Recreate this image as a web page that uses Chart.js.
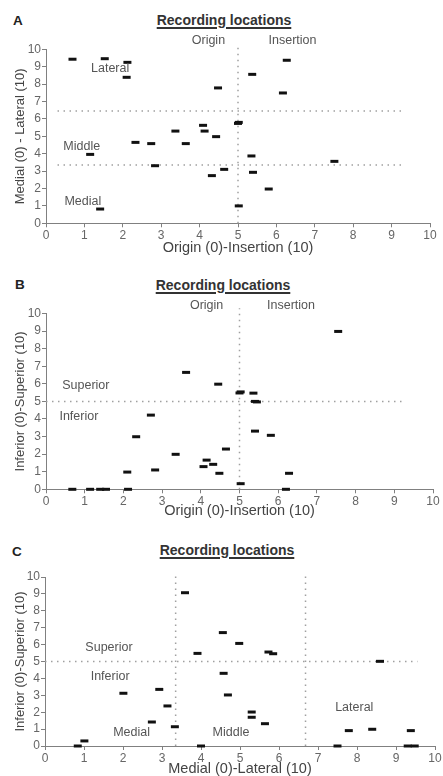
<!DOCTYPE html>
<html><head><meta charset="utf-8">
<script src="https://cdn.jsdelivr.net/npm/chart.js@4/dist/chart.umd.min.js"></script>
<style>
body{margin:0;background:#fff;width:443px;height:776px;overflow:hidden;position:relative;font-family:"Liberation Sans",Arial,sans-serif}
canvas{position:absolute;left:0}
.letter{position:absolute;font-weight:bold;font-size:13.5px;line-height:14px;color:#222}
.title{position:absolute;font-weight:bold;font-size:14px;line-height:16px;color:#333;text-decoration:underline;text-decoration-thickness:2px;text-underline-offset:2px;transform:translateX(-50%);white-space:nowrap}
</style></head>
<body>
<div class="letter" style="left:13px;top:14px">A</div>
<div class="title" style="left:224px;top:12px">Recording locations</div>
<div class="letter" style="left:15px;top:278px">B</div>
<div class="title" style="left:223px;top:277px">Recording locations</div>
<div class="letter" style="left:12px;top:545px">C</div>
<div class="title" style="left:227px;top:542px">Recording locations</div>
<canvas id="ca" width="443" height="258" style="top:0px"></canvas>
<canvas id="cb" width="443" height="262" style="top:258px"></canvas>
<canvas id="cc" width="443" height="258" style="top:518px"></canvas>
<script>
// ---- Panel A: Origin-Insertion (x) vs Medial-Lateral (y)
const aX = [0.69,1.53,2.12,2.10,4.48,5.37,6.27,6.17,5.02,5.00,4.09,4.13,3.37,4.43,2.33,2.74,3.64,1.15,2.84,4.64,4.32,5.35,7.51,5.39,5.80,5.02,1.41];
const aY = [9.43,9.46,9.25,8.39,7.78,8.56,9.37,7.49,5.80,5.74,5.63,5.30,5.30,4.98,4.65,4.58,4.58,3.96,3.31,3.10,2.74,3.87,3.56,2.93,1.97,1.00,0.82];
const aVLines = [5];
const aHLines = [6.45, 3.35];
const aLabelText = ["Origin","Insertion","Lateral","Middle","Medial"];
const aLabelX = [4.23,6.42,1.67,0.93,0.96];
const aLabelY = [10.5,10.5,8.9,4.4,1.24];
const aXTitle = "Origin (0)-Insertion (10)";
const aYTitle = "Medial (0) - Lateral (10)";

// ---- Panel B: Origin-Insertion (x) vs Inferior-Superior (y)
const bX = [3.62,4.45,2.71,2.33,2.10,2.82,3.35,4.15,4.07,4.32,4.48,4.65,0.68,1.14,1.40,1.55,2.12,7.55,5.03,5.00,5.36,5.40,5.45,5.40,5.81,6.28,6.20,5.03];
const bY = [6.65,5.98,4.22,2.99,0.98,1.10,1.99,1.66,1.29,1.42,0.91,2.29,0,0,0,0,0,8.98,5.54,5.48,5.47,5.00,4.97,3.31,3.07,0.91,0,0.32];
const bVLines = [5];
const bHLines = [5];
const bLabelText = ["Origin","Insertion","Superior","Inferior"];
const bLabelX = [4.15,6.33,1.03,0.85];
const bLabelY = [10.47,10.47,5.89,4.16];
const bXTitle = "Origin (0)-Insertion (10)";
const bYTitle = "Inferior (0)-Superior (10)";

// ---- Panel C: Medial-Lateral (x) vs Inferior-Superior (y)
const cX = [3.59,3.91,4.56,4.98,5.73,5.85,4.58,4.69,5.30,5.30,5.64,2.01,2.93,3.14,2.74,3.33,1.01,0.84,4.00,8.59,7.79,8.39,9.38,7.50,9.30,9.48];
const cY = [9.07,5.48,6.71,6.07,5.56,5.46,4.30,3.02,2.01,1.70,1.32,3.12,3.35,2.37,1.42,1.14,0.30,0,0,5.01,0.91,0.99,0.91,0,0,0];
const cVLines = [3.35, 6.68];
const cHLines = [5];
const cLabelText = ["Superior","Inferior","Medial","Middle","Lateral"];
const cLabelX = [1.64,1.67,2.22,4.77,7.93];
const cLabelY = [5.8,4.1,0.8,0.8,2.3];
const cXTitle = "Medial (0)-Lateral (10)";
const cYTitle = "Inferior (0)-Superior (10)";

const tickValues = [0,1,2,3,4,5,6,7,8,9,10];

const FONT = '"Liberation Sans", Arial, sans-serif';
Chart.defaults.font.family = FONT;

function refLine(points){
  return {type:'scatter', showLine:true, data:points, borderColor:'#a0a0a0', borderWidth:1.5,
          borderDash:[1.5,4.5], pointRadius:0, clip:false, order:1};
}

function labelPlugin(texts, xs, ys){
  return {id:'regionLabels', afterDatasetsDraw(chart){
    const {ctx} = chart; const sx = chart.scales.x, sy = chart.scales.y;
    ctx.save();
    ctx.font = '12.5px ' + FONT; ctx.fillStyle = '#555';
    ctx.textAlign = 'center'; ctx.textBaseline = 'middle';
    texts.forEach((t,i)=>ctx.fillText(t, sx.getPixelForValue(xs[i]), sy.getPixelForValue(ys[i])));
    ctx.restore();
  }};
}

function axis(title, titleSize, titlePad, extra){
  return Object.assign({
    type:'linear', min:0, max:10,
    afterBuildTicks: s => { s.ticks = tickValues.map(v=>({value:v})); },
    ticks:{autoSkip:false, maxRotation:0, color:'#666', font:{size:12}, padding:1},
    grid:{display:true, drawOnChartArea:false, drawTicks:true, tickLength:4, color:'#808080'},
    border:{display:true, color:'#808080', width:1},
    title:{display:true, text:title, color:'#444', font:{size:titleSize, lineHeight:1}, padding:titlePad}
  }, extra);
}

function makeChart(id, p){
  const ds = [];
  p.v.forEach(v=>ds.push(refLine([{x:v,y:0},{x:v,y:p.vTop}])));
  p.h.forEach(h=>ds.push(refLine([{x:p.hFrom,y:h},{x:p.hTo,y:h}])));
  ds.push({type:'scatter', data:p.xs.map((x,i)=>({x:x,y:p.ys[i]})), pointStyle:'line',
           pointRadius:4, pointBorderWidth:3, borderColor:'#111', backgroundColor:'#111', clip:false, order:0});
  new Chart(document.getElementById(id), {
    type:'scatter',
    data:{datasets:ds},
    options:{
      responsive:false, animation:false, events:[],
      layout:{padding:{top:p.top, right:p.right, left:0, bottom:0}},
      plugins:{legend:{display:false}, tooltip:{enabled:false}, title:{display:false}},
      scales:{
        x: axis(p.xTitle, 14.5, {top:0, bottom:p.xPad}, {afterFit: s=>{ s.height = p.xH; }}),
        y: axis(p.yTitle, 13, {top:13.5, bottom:0}, {afterFit: s=>{ s.width = p.yW; }})
      }
    },
    plugins:[labelPlugin(p.lt, p.lx, p.ly)]
  });
}

makeChart('ca', {xs:aX, ys:aY, v:aVLines, h:aHLines, vTop:10.35, hFrom:0.3, hTo:9.3,
  lt:aLabelText, lx:aLabelX, ly:aLabelY, xTitle:aXTitle, yTitle:aYTitle,
  top:49.3, right:13, yW:46, xH:34.7, xPad:2.75});
makeChart('cb', {xs:bX, ys:bY, v:bVLines, h:bHLines, vTop:10.3, hFrom:0, hTo:9.3,
  lt:bLabelText, lx:bLabelX, ly:bLabelY, xTitle:bXTitle, yTitle:bYTitle,
  top:55.5, right:10, yW:46, xH:30.7, xPad:1.45});
makeChart('cc', {xs:cX, ys:cY, v:cVLines, h:cHLines, vTop:10.3, hFrom:0, hTo:9.55,
  lt:cLabelText, lx:cLabelX, ly:cLabelY, xTitle:cXTitle, yTitle:cYTitle,
  top:59, right:8, yW:45, xH:30, xPad:0});
</script>
</body></html>
